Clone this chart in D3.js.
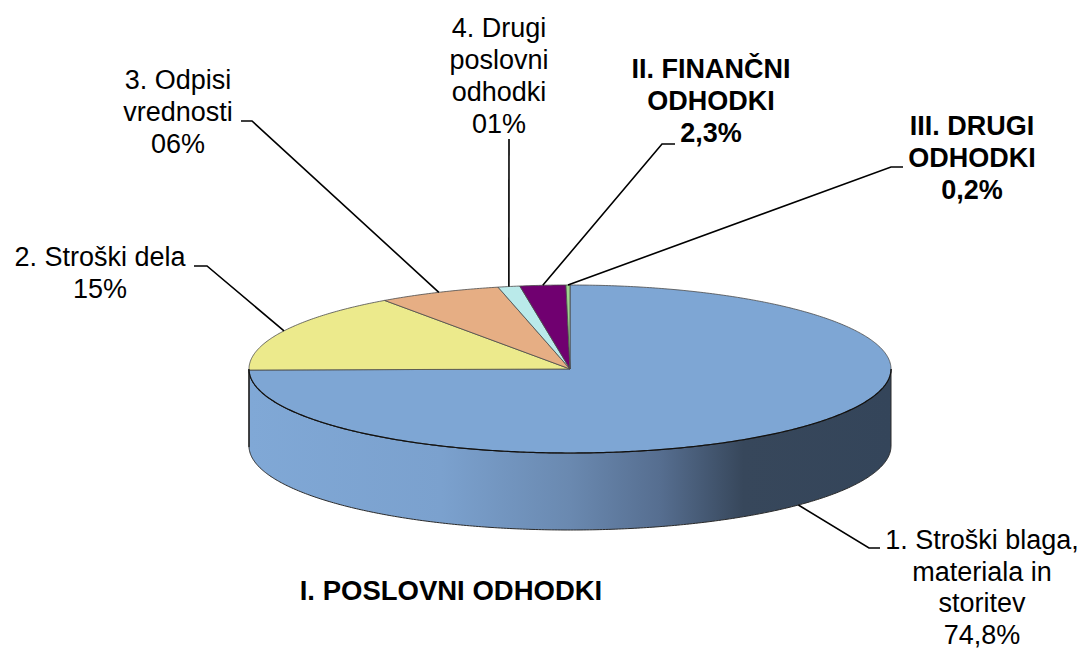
<!DOCTYPE html>
<html>
<head>
<meta charset="utf-8">
<script src="https://cdn.jsdelivr.net/npm/d3@7"></script>
<style>
  body { margin: 0; background: #fff; }
  svg text { font-family: "Liberation Sans", Arial, sans-serif; fill: #000; }
</style>
</head>
<body>
<div id="chart"></div>
<script>
// data (clockwise from 12 o'clock)
var names = [
    ["1. Stroški blaga,", "materiala in", "storitev"],
    ["2. Stroški dela"],
    ["3. Odpisi", "vrednosti"],
    ["4. Drugi", "poslovni", "odhodki"],
    ["II. FINANČNI", "ODHODKI"],
    ["III. DRUGI", "ODHODKI"]
];
var values = [74.8, 15.4, 6.2, 1.1, 2.3, 0.2];
var pctFormats = [".1f", "02.0f", "02.0f", "02.0f", ".1f", ".1f"];
var boldLabel = [false, false, false, false, true, true];
var colors = ["#7EA6D4", "#ECEA8C", "#E6AE84", "#BAEAEA", "#700070", "#9ED48F"];
var groupTitle = "I. POSLOVNI ODHODKI";

// label placement (x = centre of text, y = first baseline, lead = leader line points before the slice)
var labelLayout = [
    { x: 982, y: 549, lead: [[880, 548], [869, 548]], onSide: true },
    { x: 100, y: 266, lead: [[194, 266], [207, 266]] },
    { x: 178, y: 89, lead: [[241, 121], [252, 121]] },
    { x: 499, y: 37, lead: [[509, 139]] },
    { x: 711, y: 78, lead: [[675, 144], [662, 144]] },
    { x: 972, y: 135, lead: [[903, 167], [891, 167]] }
];

var width = 1086, height = 651;
var cx = 570, cy = 369, rx = 321, ry = 84, depth = 77;
var lineH = 32;

var locale = d3.formatLocale({ decimal: ",", thousands: ".", grouping: [3], currency: ["", ""] });

var svg = d3.select("#chart").append("svg")
    .attr("width", width)
    .attr("height", height);

var defs = svg.append("defs");
var grad = defs.append("linearGradient")
    .attr("id", "sideBlue")
    .attr("gradientUnits", "userSpaceOnUse")
    .attr("x1", cx - rx).attr("x2", cx + rx)
    .attr("y1", 0).attr("y2", 0);
grad.selectAll("stop")
    .data([[0, "#80A8D6"], [0.3, "#7BA1CE"], [0.5, "#6A89B0"], [0.64, "#566E90"], [0.77, "#37475B"], [1, "#34455A"]])
    .enter().append("stop")
    .attr("offset", function (d) { return d[0]; })
    .attr("stop-color", function (d) { return d[1]; });

var pie = d3.pie().sort(null).value(function (d) { return d; });
var arcs = pie(values);

function pt(a, dy) {
    return [cx + rx * Math.sin(a), cy - ry * Math.cos(a) + (dy || 0)];
}
function arcPoints(a0, a1, dy) {
    var n = Math.max(2, Math.ceil(Math.abs(a1 - a0) / 0.01));
    return d3.range(n + 1).map(function (i) { return pt(a0 + (a1 - a0) * i / n, dy); });
}
var line = d3.line();

// sides (only the front half is visible)
arcs.forEach(function (d, i) {
    var a0 = Math.max(d.startAngle, Math.PI / 2),
        a1 = Math.min(d.endAngle, 3 * Math.PI / 2);
    if (a0 >= a1) return;
    var pts = arcPoints(a0, a1, 0).concat(arcPoints(a1, a0, depth));
    svg.append("path")
        .attr("d", line(pts) + "Z")
        .attr("fill", i === 0 ? "url(#sideBlue)" : d3.color(colors[i]).darker(0.8))
        .attr("stroke", "#2a2a2a")
        .attr("stroke-width", 1);
});

// tops
arcs.forEach(function (d, i) {
    var pts = [[cx, cy]].concat(arcPoints(d.startAngle, d.endAngle, 0));
    svg.append("path")
        .attr("d", line(pts) + "Z")
        .attr("fill", colors[i])
        .attr("stroke", "#4a4a4a")
        .attr("stroke-width", 0.8)
        .attr("stroke-linejoin", "round");
});
// front rim line where top meets side
svg.append("path")
    .attr("d", line(arcPoints(Math.PI / 2, 3 * Math.PI / 2, 0)))
    .attr("fill", "none")
    .attr("stroke", "#111")
    .attr("stroke-width", 1.2);

// leader lines
arcs.forEach(function (d, i) {
    var L = labelLayout[i];
    var mid = (d.startAngle + d.endAngle) / 2;
    var end = pt(mid, L.onSide ? depth : 0);
    svg.append("path")
        .attr("d", line(L.lead.concat([end])))
        .attr("fill", "none")
        .attr("stroke", "#000")
        .attr("stroke-width", 1.6);
});

// labels
arcs.forEach(function (d, i) {
    var L = labelLayout[i];
    var lines = names[i].concat([locale.format(pctFormats[i])(values[i]) + "%"]);
    var t = svg.append("text")
        .attr("text-anchor", "middle")
        .style("font-size", "27px")
        .style("font-weight", boldLabel[i] ? "bold" : "normal");
    lines.forEach(function (s, k) {
        t.append("tspan")
            .attr("x", L.x)
            .attr("y", L.y + k * (i === 0 ? 31.5 : lineH))
            .text(s);
    });
});

svg.append("text")
    .attr("x", 451)
    .attr("y", 600)
    .attr("text-anchor", "middle")
    .style("font-size", "27.5px")
    .style("font-weight", "bold")
    .text(groupTitle);
</script>
</body>
</html>
